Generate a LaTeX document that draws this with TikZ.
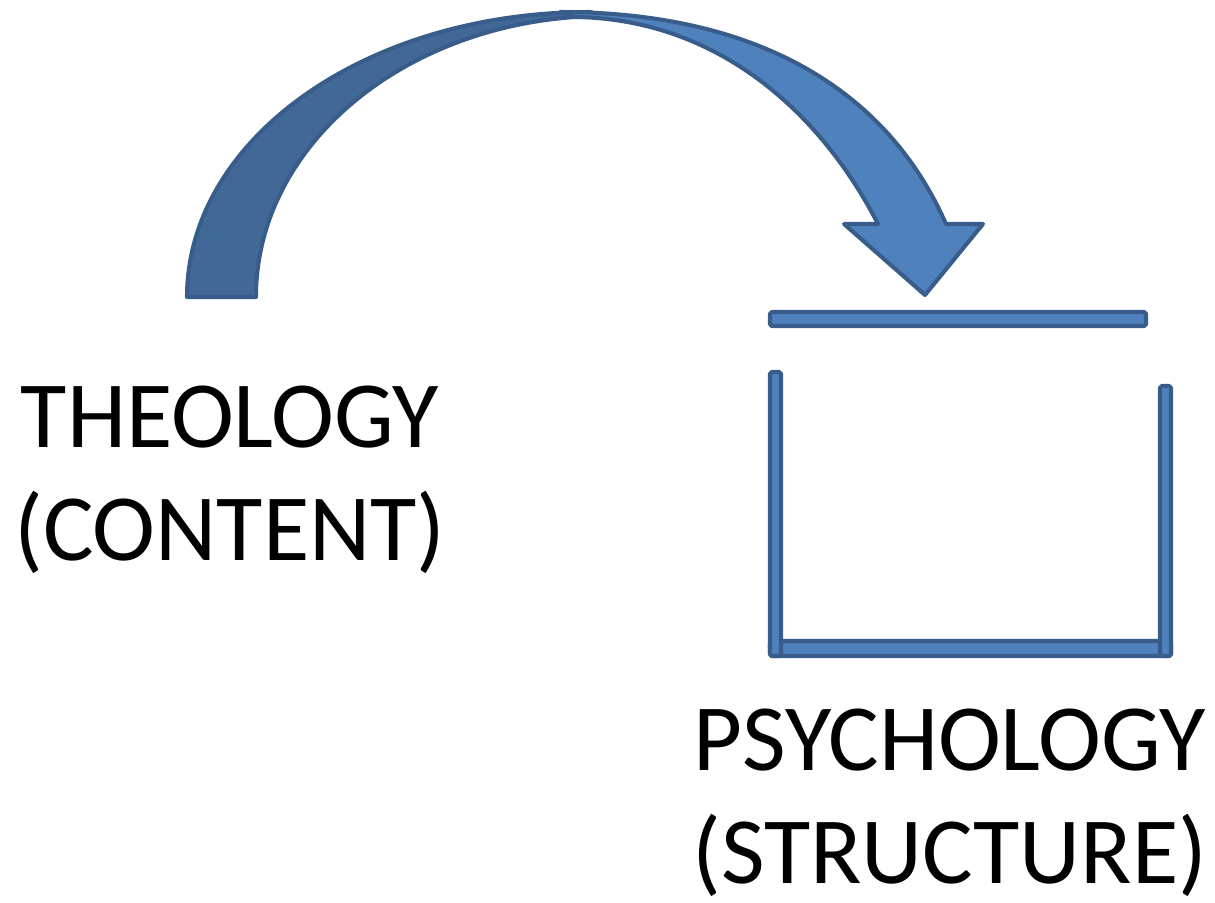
\documentclass[tikz,border=0pt]{standalone}
\usepackage{fontspec}
\setmainfont{Carlito}
\definecolor{accentfill}{RGB}{79,129,189}
\definecolor{accentback}{RGB}{65,104,150}
\definecolor{accentline}{RGB}{56,93,138}

\begin{document}
\begin{tikzpicture}[x=0.02cm, y=-0.02cm,
    shape line/.style={draw=accentline, line width=2.3pt, line join=round},
    bar/.style={shape line, fill=accentfill, rounded corners=1pt},
    caption/.style={font=\fontsize{54}{64}\selectfont, align=center, anchor=north, inner sep=0pt}]
	\useasboundingbox (0,0) rectangle (1215,903);

	% curved arrow: back half, then front half with the head
	\draw [shape line, fill=accentback] (187,297) .. controls (187,139) and (366,12) .. (590,12)
		-- (605,16) .. controls (413,16) and (256,141) .. (256,297) -- cycle;
	\draw [shape line, fill=accentfill] (560,12) .. controls (760,12) and (888,92) .. (946,224)
		-- (983,224) -- (925,295) -- (844,224) -- (878,224)
		.. controls (822,115) and (720,19) .. (575,17) -- cycle;

	% the box
	\draw [bar] (770,312) rectangle (1146,326);
	\draw [bar] (770,641) rectangle (1171,656);
	\draw [bar] (770,372) rectangle (781,656);
	\draw [bar] (1160,386) rectangle (1171,656);

	\node [caption] (theology) at (230,386) {THEOLOGY\\(CONTENT)};
	\node [caption] (psychology) at (950,709) {PSYCHOLOGY\\(STRUCTURE)};
\end{tikzpicture}
\end{document}
